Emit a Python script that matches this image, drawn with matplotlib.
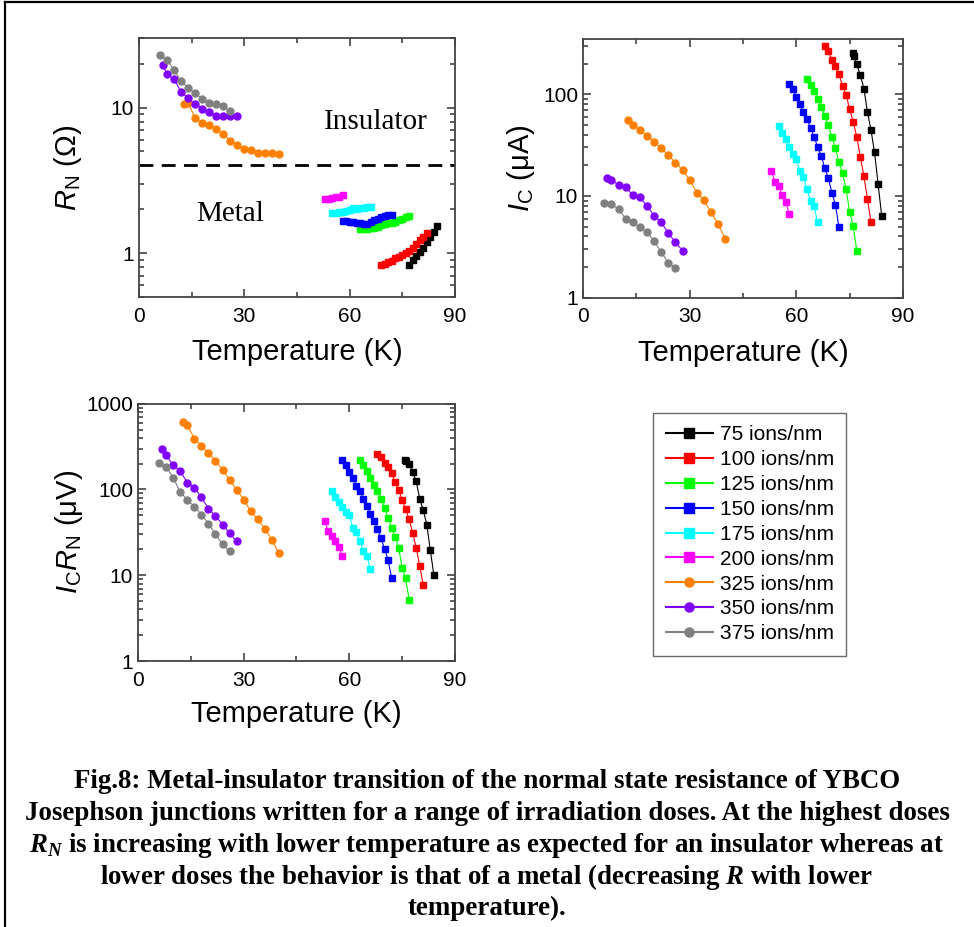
import numpy as np
import matplotlib
matplotlib.use('Agg')
import matplotlib.pyplot as plt
from matplotlib.ticker import MultipleLocator, FuncFormatter
from matplotlib.lines import Line2D

plt.rcParams['font.family'] = 'Liberation Sans'
plt.rcParams['mathtext.fontset'] = 'custom'
plt.rcParams['mathtext.rm'] = 'Liberation Sans'
plt.rcParams['mathtext.it'] = 'Liberation Sans:italic'
plt.rcParams['mathtext.bfit'] = 'Liberation Serif:italic:bold'

# doses and colours
doses = ['75', '100', '125', '150', '175', '200', '325', '350', '375']
colors = ['black', '#ff0000', '#00ff00', '#0000ff', '#00ffff', '#ff00ff',
          '#ff8000', '#8000ff', '#808080']
markers = ['s', 's', 's', 's', 's', 's', 'o', 'o', 'o']

# temperatures (K) used for Ic and IcRn
t75 = [75.8, 76.2, 77, 78, 79, 80, 81, 82, 83, 84]
t100 = [68, 69, 70, 71, 72, 73, 74, 75, 76, 77, 78, 79, 80, 81]
t125 = [63, 64, 65, 66, 67, 68, 69, 70, 71, 72, 73, 74, 75, 76, 77]
t150 = [58, 59, 60, 61, 62, 63, 64, 65, 66, 67, 68, 69, 70, 71, 72]
t175 = [55, 56, 57, 58, 59, 60, 61, 62, 63, 64, 65, 66]
t200 = [53, 54, 55, 56, 57, 58]
t325 = [12.7, 14, 16, 18, 20, 22, 24, 26, 28, 30, 32, 34, 36, 38, 40]
t350 = [6.7, 8, 10, 12, 14, 16, 18, 20, 22, 24, 26, 28]
t375 = [6, 8, 10, 12, 14, 16, 18, 20, 22, 24, 26]

# temperatures (K) for RN of the metallic junctions
rn_t75 = [77, 78, 79, 80, 81, 82, 83, 84, 85]
rn_t100 = [69, 70, 71, 72, 73, 74, 75, 76, 77, 78, 79, 80, 81, 82]

# normal state resistance RN (Ohm)
rn75 = [0.83, 0.90, 0.96, 1.02, 1.09, 1.19, 1.30, 1.40, 1.54]
rn100 = [0.83, 0.84, 0.87, 0.89, 0.92, 0.94, 0.97, 1.00, 1.04, 1.09, 1.15, 1.23, 1.30, 1.38]
rn125 = [1.46, 1.46, 1.47, 1.48, 1.50, 1.52, 1.55, 1.58, 1.60, 1.62, 1.64, 1.68, 1.72, 1.76, 1.80]
rn150 = [1.66, 1.66, 1.64, 1.64, 1.62, 1.60, 1.58, 1.59, 1.63, 1.68, 1.72, 1.76, 1.80, 1.82, 1.83]
rn175 = [1.89, 1.90, 1.92, 1.93, 1.96, 1.99, 2.03, 2.02, 2.03, 2.05, 2.06, 2.07]
rn200 = [2.36, 2.37, 2.40, 2.42, 2.44, 2.50]
rn325 = [10.5, 10.7, 8.5, 7.8, 7.6, 7.1, 6.6, 5.9, 5.5, 5.2, 5.1, 4.9, 4.9, 4.9, 4.8]
rn350 = [19.5, 17.1, 15.6, 12.8, 11.6, 10.6, 9.8, 9.3, 8.8, 8.8, 8.8, 8.7]
rn375 = [22.8, 21.2, 18.1, 15.1, 13.7, 12.5, 11.5, 10.8, 10.5, 10.2, 9.4]

# critical current Ic (uA)
ic75 = [256, 241, 197, 154, 114, 67, 44.4, 26.8, 13.1, 6.4]
ic100 = [302, 264, 219, 188, 157, 121, 99, 71.3, 53.5, 38.1, 24.3, 15.7, 9.4, 5.5]
ic125 = [142.6, 122.5, 107.7, 89.3, 75.2, 61.3, 49.7, 38.1, 29.4, 21.4, 16.7, 11.7, 6.9, 5.1, 2.9]
ic150 = [127, 112, 94.2, 79.8, 67.0, 56.9, 47.1, 38.1, 30.4, 24.7, 18.9, 14.9, 10.8, 8.2, 4.9]
ic175 = [48.9, 41.8, 36.0, 30.5, 25.7, 22.9, 17.6, 15.5, 11.7, 8.9, 7.9, 5.5]
ic200 = [17.6, 13.8, 12.6, 10.2, 8.8, 6.7]
ic325 = [55.6, 50.5, 44.4, 39.0, 34.0, 29.4, 25.3, 21.2, 18.0, 14.4, 10.8, 9.1, 6.9, 5.3, 3.8]
ic350 = [15.1, 14.4, 12.8, 12.3, 10.2, 9.7, 8.0, 6.4, 5.5, 4.3, 3.5, 2.9]
ic375 = [8.6, 8.3, 7.4, 6.0, 5.5, 4.9, 4.4, 3.6, 2.8, 2.2, 1.97]

# IcRn product (uV)
v75 = [223, 213, 200, 160, 124, 78, 57, 39, 19.6, 10.1]
v100 = [262, 236, 203, 182, 155, 122, 99, 76, 59, 45, 31, 21, 12.9, 7.7]
v125 = [219, 191, 163, 137, 114, 96, 78, 61, 47, 36, 28, 21, 12.3, 9.2, 5.2]
v150 = [219, 191, 160, 137, 111, 97, 78, 65, 52, 43, 35, 27, 20.5, 15.1, 9.4]
v175 = [97, 81, 71, 62, 54, 50, 36, 32, 25, 19, 16.8, 11.7]
v200 = [42.5, 33, 28.9, 24.8, 21.5, 16.8]
v325 = [615, 562, 393, 322, 267, 215, 170, 130, 99, 76, 56, 45, 35, 26, 18.1]
v350 = [300, 251, 191, 164, 120, 105, 81, 60, 49, 39, 31, 25]
v375 = [203, 183, 137, 93, 76, 63, 51, 40, 30, 23, 19]

temps = [t75, t100, t125, t150, t175, t200, t325, t350, t375]
rn_temps = [rn_t75, rn_t100, t125, t150, t175, t200, t325, t350, t375]
rn_all = [rn75, rn100, rn125, rn150, rn175, rn200, rn325, rn350, rn375]
ic_all = [ic75, ic100, ic125, ic150, ic175, ic200, ic325, ic350, ic375]
v_all = [v75, v100, v125, v150, v175, v200, v325, v350, v375]

fig = plt.figure(figsize=(9.74, 9.27), dpi=100)
ax1 = fig.add_axes([0.1427, 0.6796, 0.3244, 0.2794])
ax2 = fig.add_axes([0.5986, 0.6789, 0.3285, 0.2790])
ax3 = fig.add_axes([0.1417, 0.2869, 0.3254, 0.2776])

def style(ax, ylim, ylabel, lx, ly):
    ax.set_yscale('log')
    ax.set_xlim(0, 90)
    ax.set_ylim(*ylim)
    ax.xaxis.set_major_locator(MultipleLocator(30))
    ax.xaxis.set_minor_locator(MultipleLocator(15))
    ax.yaxis.set_major_formatter(FuncFormatter(lambda v, p: '%g' % v))
    ax.tick_params(which='both', direction='in', top=True, right=True,
                   labelsize=15, colors='#333333', labelcolor='black', width=1.1)
    ax.tick_params(axis='x', which='major', pad=7)
    ax.tick_params(which='major', length=6)
    ax.tick_params(which='minor', length=3.5)
    for s in ax.spines.values():
        s.set_color('#444444')
        s.set_linewidth(1.3)
    ax.set_xlabel('Temperature (K)', fontsize=21)
    ax.set_ylabel(ylabel, fontsize=21)
    ax.xaxis.set_label_coords(0.5, ly)
    ax.yaxis.set_label_coords(lx, 0.5)

handles = []
for i in range(len(doses)):
    ax1.plot(rn_temps[i], rn_all[i], color=colors[i], marker=markers[i], ms=5,
             lw=0.8, mec=colors[i])
    h, = ax2.plot(temps[i], ic_all[i], color=colors[i], marker=markers[i], ms=5,
                  lw=0.8, mec=colors[i])
    ax3.plot(temps[i], v_all[i], color=colors[i], marker=markers[i], ms=5,
             lw=0.8, mec=colors[i])
    handles.append(Line2D([], [], color=colors[i], marker=markers[i], ms=6.5,
                          lw=1.5, label=doses[i] + ' ions/nm'))

ax1.axhline(4, color='black', lw=2, ls=(0, (5, 3)))
ax1.text(0.75, 0.675, 'Insulator', transform=ax1.transAxes, ha='center',
         va='center', fontsize=21, family='Liberation Serif')
ax1.text(0.29, 0.32, 'Metal', transform=ax1.transAxes, ha='center',
         va='center', fontsize=21, family='Liberation Serif')

style(ax1, (0.5, 30), r'$R_\mathrm{N}$ (Ω)', -0.174, -0.158)
style(ax2, (1, 350), r'$I_\mathrm{C}$ (μA)', -0.144, -0.158)
style(ax3, (1, 1000), r'$I_\mathrm{C}R_\mathrm{N}$ (μV)', -0.167, -0.152)

leg = fig.legend(handles=handles, loc='upper left',
                 bbox_to_anchor=(653 / 974, 1 - 413 / 927), fontsize=15,
                 handlelength=2.3, handletextpad=0.3, labelspacing=0.28,
                 borderpad=0.6, fancybox=False, edgecolor='#444444',
                 numpoints=1, borderaxespad=0)
leg.get_frame().set_linewidth(1.0)

caption = [
    'Fig.8: Metal-insulator transition of the normal state resistance of YBCO',
    'Josephson junctions written for a range of irradiation doses. At the highest doses',
    r'$\mathbfit{R}_{\mathbfit{N}}$ is increasing with lower temperature as expected for an insulator whereas at',
    r'lower doses the behavior is that of a metal (decreasing $\mathbfit{R}$ with lower',
    'temperature).',
]
ys = [782, 814, 846, 877, 908]
for line, y in zip(caption, ys):
    fig.text(0.5, 1 - y / 927, line, ha='center', va='center', fontsize=19.4,
             family='Liberation Serif', weight='bold')

# frame around the figure (left and top edges)
fig.add_artist(Line2D([5 / 974, 5 / 974], [0, 1 - 2 / 927], color='black', lw=1.6))
fig.add_artist(Line2D([5 / 974, 1], [1 - 2 / 927, 1 - 2 / 927], color='black', lw=1.6))

fig.savefig('out.png', dpi=100)
